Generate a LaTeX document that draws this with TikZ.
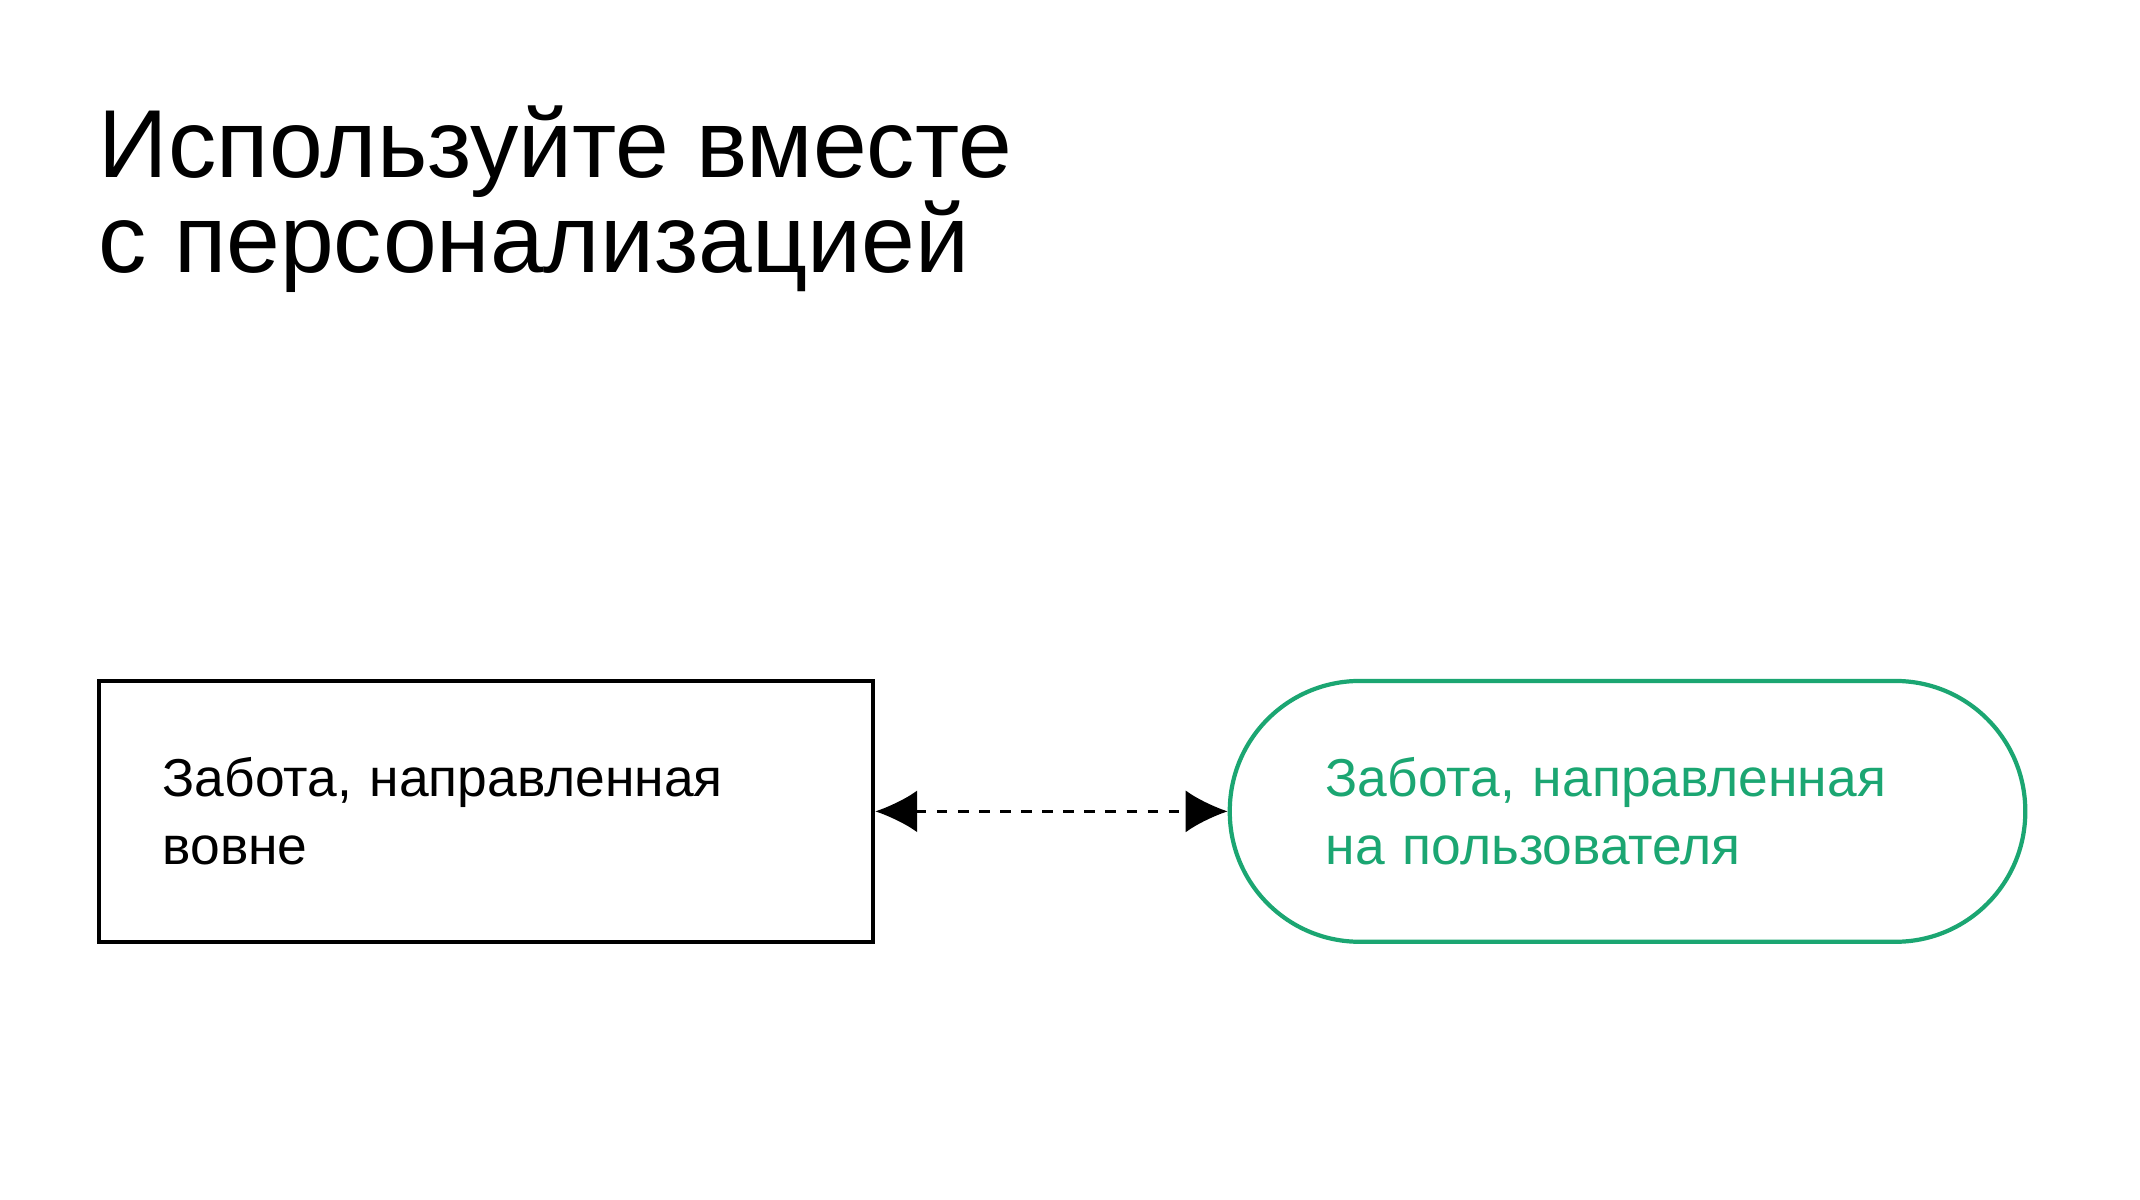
\documentclass[tikz,border=0pt]{standalone}
\usepackage{fontspec}
\setmainfont{Liberation Sans}
\usetikzlibrary{arrows.meta}
\definecolor{caregreen}{HTML}{1BA672}
\tikzstyle{arrow} = [thick,dashed,{Latex[length=0.42cm,width=0.42cm]}-{Latex[length=0.42cm,width=0.42cm]}]
\tikzstyle{outer} = [rectangle, minimum width=7.75cm, minimum height=2.61cm, text width=6.47cm, inner xsep=0.64cm, align=left, draw=black, line width=1.2pt, font=\fontsize{15.2}{19.5}\selectfont]
\tikzstyle{user} = [rectangle, rounded corners=1.3cm, minimum width=7.96cm, minimum height=2.61cm, text width=6.04cm, inner xsep=0.96cm, align=left, draw=caregreen, text=caregreen, line width=1.2pt, font=\fontsize{15.2}{19.5}\selectfont]
\tikzstyle{title} = [anchor=base west, inner sep=0pt, font=\fontsize{27.5}{30}\selectfont]

\begin{document}
\begin{tikzpicture}[x=0.01365cm, y=-0.01365cm]
\useasboundingbox (0,0) rectangle (1568,879);

\node (title1) [title] at (72,130) {Используйте вместе};
\node (title2) [title] at (72,200) {с персонализацией};

\node (out) [outer] at (356,594.5) {Забота, направленная\\вовне};
\node (usr) [user] at (1192.5,594.5) {Забота, направленная\\на пользователя};

\draw [arrow] (out) -- (usr);

\end{tikzpicture}
\end{document}
